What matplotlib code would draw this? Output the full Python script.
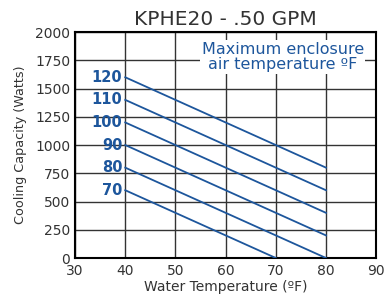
import matplotlib

matplotlib.use("Agg")
import matplotlib.pyplot as plt

# air temperature curves: start/end points (water temp degF, cooling W)
air_temps = [120, 110, 100, 90, 80, 70]
x_start = [40, 40, 40, 40, 40, 40]
y_start = [1600, 1400, 1200, 1000, 800, 600]
x_end = [80, 80, 80, 80, 80, 70]
y_end = [800, 600, 400, 200, 0, 0]

x_ticks = [30, 40, 50, 60, 70, 80, 90]
y_ticks = [0, 250, 500, 750, 1000, 1250, 1500, 1750, 2000]

BLUE = "#1d569c"
GREY = "#333333"

fig = plt.figure(figsize=(3.85, 3.0), dpi=100)
ax = fig.add_axes([0.195, 0.14, 0.782, 0.753])

for t, xs, ys, xe, ye in zip(air_temps, x_start, y_start, x_end, y_end):
    ax.plot([xs, xe], [ys, ye], color=BLUE, linewidth=1.3, zorder=3)
    ax.text(xs - 0.6, ys, str(t), color=BLUE, fontsize=10.5, fontweight="bold",
            ha="right", va="center", zorder=4)

ax.set_xlim(30, 90)
ax.set_ylim(0, 2000)
ax.set_xticks(x_ticks)
ax.set_yticks(y_ticks)
ax.grid(True, color=GREY, linewidth=1.0)
ax.set_axisbelow(True)
for s in ax.spines.values():
    s.set_linewidth(1.5)
    s.set_color("black")
ax.tick_params(length=0, labelsize=10, colors="#333333")
ax.tick_params(axis="x", pad=4.5)
ax.tick_params(axis="y", pad=3.5)

ax.text(71.4, 1780, "Maximum enclosure\nair temperature ºF", color=BLUE,
        fontsize=11.5, ha="center", va="center", multialignment="center",
        linespacing=1.05, zorder=5,
        bbox=dict(facecolor="white", edgecolor="none", pad=1.0))

ax.set_title("KPHE20 - .50 GPM", fontsize=14.5, color="#333333", pad=5)
ax.set_xlabel("Water Temperature (ºF)", fontsize=10, color="#333333", labelpad=1)
ax.set_ylabel("Cooling Capacity (Watts)", fontsize=9.2, color="#333333", labelpad=6)

fig.savefig("out.png", dpi=100)
